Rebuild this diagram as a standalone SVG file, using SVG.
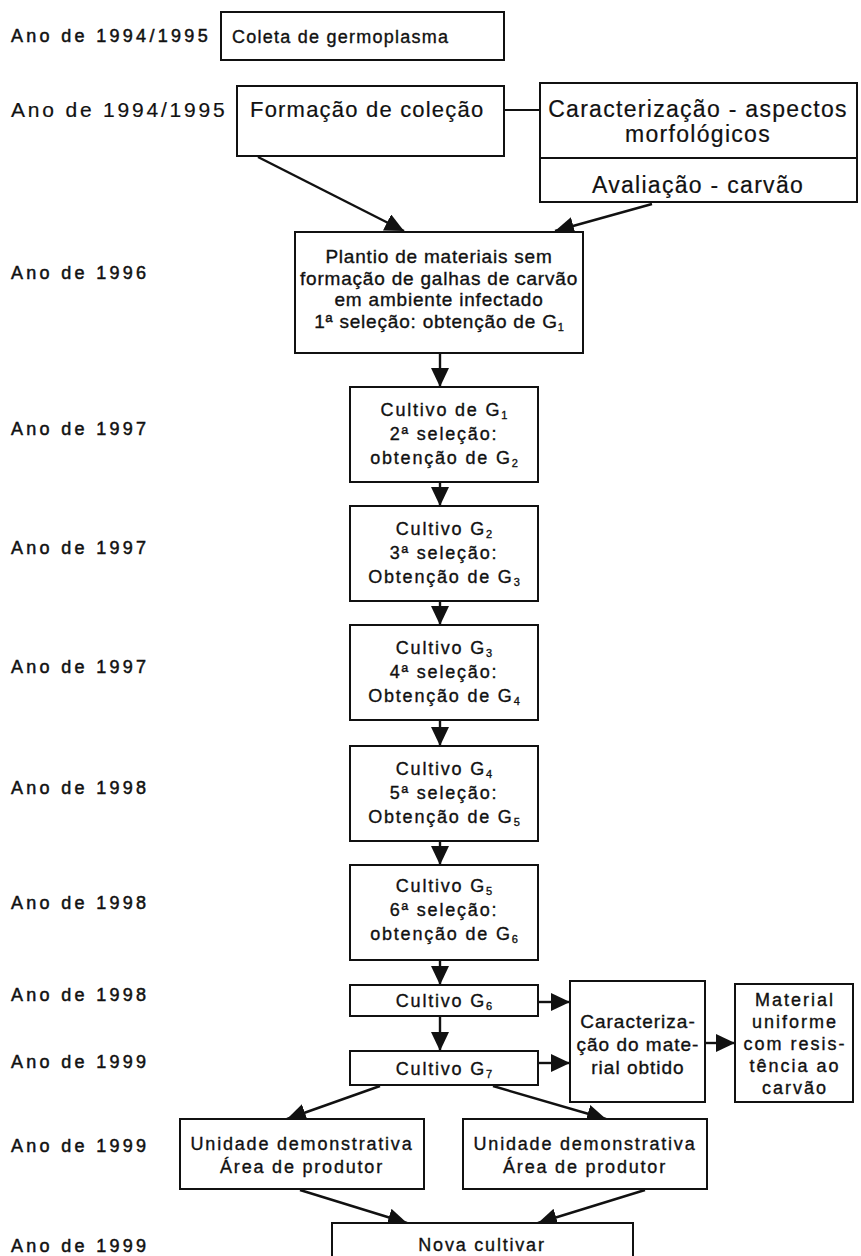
<svg xmlns="http://www.w3.org/2000/svg" width="861" height="1256" viewBox="0 0 861 1256">
<style>
text { font-family: "Liberation Sans", Arial, sans-serif; fill: #111; stroke: #111; stroke-width: 0.35px; }
.lbl { font-size: 18px; letter-spacing: 3.3px; stroke-width: 0.5px; }
.c { text-anchor: middle; }
.f18 { font-size: 18px; letter-spacing: 1.8px; }
.f19 { font-size: 19px; letter-spacing: 0.8px; }
.f23 { font-size: 23px; letter-spacing: 1.3px; stroke-width: 0.2px; }
.box { fill: #fff; stroke: #111; stroke-width: 2; }
.ln { fill: none; stroke: #111; stroke-width: 2; }
.ar { fill: none; stroke: #111; stroke-width: 2.4; marker-end: url(#ah); }
.sub { font-size: 11px; letter-spacing: 0; }
</style>
<defs>
<marker id="ah" viewBox="0 0 19 18" refX="19" refY="9" markerWidth="19" markerHeight="18" markerUnits="userSpaceOnUse" orient="auto">
<path d="M0,0 L19,9 L0,18 Z" fill="#111"/>
</marker>
</defs>
<rect width="861" height="1256" fill="#fff"/>

<g id="labels">
<text class="lbl" x="11" y="42">Ano de 1994/1995</text>
<text x="11" y="117" style="font-size:21px;letter-spacing:2.8px;stroke-width:0.2px">Ano de 1994/1995</text>
<text class="lbl" x="11" y="279">Ano de 1996</text>
<text class="lbl" x="11" y="435">Ano de 1997</text>
<text class="lbl" x="11" y="554">Ano de 1997</text>
<text class="lbl" x="11" y="673">Ano de 1997</text>
<text class="lbl" x="11" y="794">Ano de 1998</text>
<text class="lbl" x="11" y="909">Ano de 1998</text>
<text class="lbl" x="11" y="1001">Ano de 1998</text>
<text class="lbl" x="11" y="1068">Ano de 1999</text>
<text class="lbl" x="11" y="1152">Ano de 1999</text>
<text class="lbl" x="11" y="1252">Ano de 1999</text>
</g>

<g id="connectors">
<line class="ln" x1="504" y1="110" x2="540" y2="110"/>
<line class="ar" x1="258" y1="157" x2="404" y2="231"/>
<line class="ar" x1="652" y1="204" x2="555" y2="231"/>
<line class="ar" x1="440" y1="353" x2="440" y2="387"/>
<line class="ar" x1="440" y1="482" x2="440" y2="506"/>
<line class="ar" x1="440" y1="601" x2="440" y2="625"/>
<line class="ar" x1="440" y1="720" x2="440" y2="746"/>
<line class="ar" x1="440" y1="841" x2="440" y2="865"/>
<line class="ar" x1="440" y1="960" x2="440" y2="985"/>
<line class="ar" x1="440" y1="1016" x2="440" y2="1051"/>
<line class="ar" x1="538" y1="1002" x2="570" y2="1002"/>
<line class="ar" x1="538" y1="1063" x2="570" y2="1063"/>
<line class="ar" x1="705" y1="1043" x2="735" y2="1043"/>
<line class="ar" x1="380" y1="1086" x2="287" y2="1119"/>
<line class="ar" x1="493" y1="1086" x2="606" y2="1119"/>
<line class="ar" x1="300" y1="1190" x2="407" y2="1223"/>
<line class="ar" x1="645" y1="1190" x2="538" y2="1223"/>
</g>

<g id="coleta">
<rect class="box" x="221" y="12" width="283" height="48"/>
<text x="232" y="43" style="font-size:18px;letter-spacing:1.25px">Coleta de germoplasma</text>
</g>

<g id="formacao">
<rect class="box" x="237" y="86" width="267" height="70"/>
<text x="250" y="117" style="font-size:22px;letter-spacing:1.2px;stroke-width:0.2px">Formação de coleção</text>
</g>

<g id="caracterizacao-avaliacao">
<rect class="box" x="540" y="83" width="317" height="119"/>
<line class="ln" x1="540" y1="158" x2="857" y2="158"/>
<text class="c f23" x="698" y="117">Caracterização - aspectos</text>
<text class="c f23" x="698" y="142">morfológicos</text>
<text class="c f23" x="698" y="193">Avaliação - carvão</text>
</g>

<g id="plantio">
<rect class="box" x="295" y="232" width="288" height="121"/>
<text class="c f19" x="439" y="263">Plantio de materiais sem</text>
<text class="c f19" x="439" y="285">formação de galhas de carvão</text>
<text class="c f19" x="439" y="306">em ambiente infectado</text>
<text class="c f19" x="439" y="328">1ª seleção: obtenção de G<tspan class="sub" dy="3">1</tspan></text>
</g>

<g id="g1">
<rect class="box" x="350" y="387" width="188" height="95"/>
<text class="c f18" x="444" y="416">Cultivo de G<tspan class="sub" dy="3">1</tspan></text>
<text class="c f18" x="444" y="440">2ª seleção:</text>
<text class="c f18" x="444" y="464">obtenção de G<tspan class="sub" dy="3">2</tspan></text>
</g>

<g id="g2">
<rect class="box" x="350" y="506" width="188" height="95"/>
<text class="c f18" x="444" y="535">Cultivo G<tspan class="sub" dy="3">2</tspan></text>
<text class="c f18" x="444" y="559">3ª seleção:</text>
<text class="c f18" x="444" y="583">Obtenção de G<tspan class="sub" dy="3">3</tspan></text>
</g>

<g id="g3">
<rect class="box" x="350" y="625" width="188" height="95"/>
<text class="c f18" x="444" y="654">Cultivo G<tspan class="sub" dy="3">3</tspan></text>
<text class="c f18" x="444" y="678">4ª seleção:</text>
<text class="c f18" x="444" y="702">Obtenção de G<tspan class="sub" dy="3">4</tspan></text>
</g>

<g id="g4">
<rect class="box" x="350" y="746" width="188" height="95"/>
<text class="c f18" x="444" y="775">Cultivo G<tspan class="sub" dy="3">4</tspan></text>
<text class="c f18" x="444" y="799">5ª seleção:</text>
<text class="c f18" x="444" y="823">Obtenção de G<tspan class="sub" dy="3">5</tspan></text>
</g>

<g id="g5">
<rect class="box" x="350" y="865" width="188" height="95"/>
<text class="c f18" x="444" y="892">Cultivo G<tspan class="sub" dy="3">5</tspan></text>
<text class="c f18" x="444" y="916">6ª seleção:</text>
<text class="c f18" x="444" y="940">obtenção de G<tspan class="sub" dy="3">6</tspan></text>
</g>

<g id="g6">
<rect class="box" x="350" y="985" width="188" height="31"/>
<text class="c f18" x="444" y="1007">Cultivo G<tspan class="sub" dy="3">6</tspan></text>
</g>

<g id="g7">
<rect class="box" x="350" y="1051" width="188" height="34"/>
<text class="c f18" x="444" y="1075">Cultivo G<tspan class="sub" dy="3">7</tspan></text>
</g>

<g id="caracterizacao-material">
<rect class="box" x="570" y="981" width="135" height="121"/>
<text class="c" x="638" y="1028" style="font-size:19px;letter-spacing:1px">Caracteriza-</text>
<text class="c" x="638" y="1051" style="font-size:19px;letter-spacing:1px">ção do mate-</text>
<text class="c" x="638" y="1074" style="font-size:19px;letter-spacing:1px">rial obtido</text>
</g>

<g id="material-uniforme">
<rect class="box" x="735" y="984" width="118" height="118"/>
<text class="c" x="795" y="1006" style="font-size:18px;letter-spacing:2px">Material</text>
<text class="c" x="795" y="1028" style="font-size:18px;letter-spacing:2px">uniforme</text>
<text class="c" x="795" y="1050" style="font-size:18px;letter-spacing:2px">com resis-</text>
<text class="c" x="795" y="1072" style="font-size:18px;letter-spacing:2px">tência ao</text>
<text class="c" x="795" y="1094" style="font-size:18px;letter-spacing:2px">carvão</text>
</g>

<g id="unidade-1">
<rect class="box" x="180" y="1119" width="244" height="70"/>
<text class="c f18" x="302" y="1150">Unidade demonstrativa</text>
<text class="c f18" x="302" y="1173">Área de produtor</text>
</g>

<g id="unidade-2">
<rect class="box" x="463" y="1119" width="244" height="70"/>
<text class="c f18" x="585" y="1150">Unidade demonstrativa</text>
<text class="c f18" x="585" y="1173">Área de produtor</text>
</g>

<g id="nova-cultivar">
<rect class="box" x="332" y="1223" width="301" height="45"/>
<text class="c f18" x="482" y="1251">Nova cultivar</text>
</g>
</svg>
